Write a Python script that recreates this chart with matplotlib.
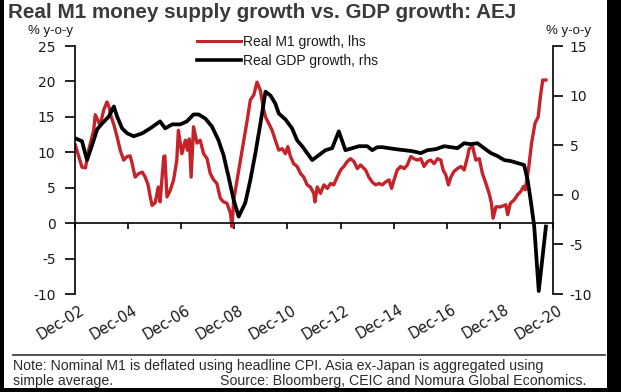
import matplotlib
matplotlib.use("Agg")
import matplotlib.pyplot as plt
from matplotlib.lines import Line2D
from matplotlib.patches import Rectangle
from matplotlib.transforms import ScaledTranslation

plt.rcParams['font.family'] = ['Liberation Sans', 'DejaVu Sans']
plt.rcParams['axes.unicode_minus'] = False

# ---------------- data (decimal years, % y-o-y) ----------------
m1_dates = [2002.93, 2003.18, 2003.31, 2003.43, 2003.62, 2003.68, 2003.78, 2003.86, 2004.00, 2004.12,
            2004.20, 2004.28, 2004.38, 2004.50, 2004.62, 2004.75, 2004.88, 2004.99, 2005.07, 2005.18,
            2005.32, 2005.45, 2005.56, 2005.67, 2005.75, 2005.82, 2005.94, 2006.05, 2006.12, 2006.26,
            2006.30, 2006.38, 2006.50, 2006.63, 2006.75, 2006.81, 2006.94, 2007.07, 2007.15, 2007.22,
            2007.29, 2007.38, 2007.51, 2007.63, 2007.76, 2007.89, 2008.01, 2008.14, 2008.26, 2008.39,
            2008.51, 2008.64, 2008.77, 2008.83, 2008.89, 2009.02, 2009.21, 2009.40, 2009.52, 2009.65,
            2009.77, 2009.90, 2010.02, 2010.09, 2010.21, 2010.34, 2010.46, 2010.59, 2010.72, 2010.84,
            2010.93, 2011.03, 2011.15, 2011.28, 2011.41, 2011.53, 2011.66, 2011.78, 2011.91, 2011.95,
            2012.04, 2012.16, 2012.29, 2012.42, 2012.54, 2012.66, 2012.79, 2012.92, 2013.04, 2013.17,
            2013.29, 2013.42, 2013.55, 2013.67, 2013.86, 2013.98, 2014.11, 2014.24, 2014.36, 2014.49,
            2014.61, 2014.74, 2014.84, 2014.93, 2015.05, 2015.18, 2015.31, 2015.43, 2015.56, 2015.68,
            2015.81, 2015.94, 2016.06, 2016.19, 2016.31, 2016.44, 2016.57, 2016.69, 2016.78, 2016.88,
            2016.98, 2017.07, 2017.19, 2017.32, 2017.45, 2017.57, 2017.70, 2017.76, 2017.89, 2018.01,
            2018.14, 2018.26, 2018.39, 2018.51, 2018.60, 2018.66, 2018.77, 2018.95, 2019.14, 2019.21,
            2019.31, 2019.46, 2019.58, 2019.71, 2019.81, 2019.87, 2019.99, 2020.11, 2020.24, 2020.36,
            2020.44, 2020.53, 2020.65]
m1_growth = [11.0, 7.9, 7.8, 10.3, 13.1, 15.3, 14.5, 13.8, 16.0, 17.1,
             16.4, 15.0, 13.9, 12.2, 10.3, 8.9, 9.4, 9.5, 8.4, 6.5,
             7.0, 7.2, 6.5, 5.4, 3.7, 2.5, 2.9, 5.1, 3.0, 9.4,
             9.5, 3.7, 4.6, 6.1, 8.9, 13.1, 9.8, 11.7, 10.3, 11.9,
             6.5, 13.6, 11.3, 11.7, 9.8, 9.1, 7.0, 6.1, 5.6, 3.5,
             3.0, 2.8, 1.4, -0.5, 3.2, 6.1, 10.3, 14.5, 17.4, 18.1,
             19.9, 18.7, 16.0, 15.0, 14.1, 13.1, 11.7, 10.3, 10.5, 9.8,
             10.8, 9.4, 8.4, 8.0, 7.0, 6.5, 5.4, 5.1, 4.2, 3.0,
             5.1, 4.2, 5.4, 4.9, 5.6, 5.4, 6.5, 7.5, 8.0, 8.7,
             9.1, 8.7, 7.7, 8.2, 7.5, 6.5, 5.8, 5.4, 5.6, 5.4,
             5.8, 6.1, 4.9, 6.1, 7.5, 8.0, 7.7, 8.2, 9.4, 9.1,
             8.9, 9.1, 8.0, 8.7, 8.9, 8.4, 9.1, 8.9, 7.5, 6.8,
             5.4, 6.5, 7.3, 7.7, 8.0, 7.5, 9.4, 10.5, 10.8, 8.9,
             9.1, 7.0, 5.6, 4.2, 2.8, 0.7, 2.3, 2.3, 2.6, 1.2,
             2.8, 3.3, 4.0, 4.5, 5.2, 4.7, 7.5, 11.3, 14.1, 15.0,
             17.8, 20.2, 20.2]

gdp_dates = [2002.92, 2003.18, 2003.37, 2003.56, 2003.75, 2003.94, 2004.19, 2004.38, 2004.50, 2004.69,
             2004.88, 2005.13, 2005.45, 2005.75, 2006.12, 2006.31, 2006.58, 2006.88, 2007.13, 2007.38,
             2007.57, 2007.82, 2008.07, 2008.32, 2008.51, 2008.70, 2008.89, 2009.08, 2009.33, 2009.52,
             2009.71, 2009.90, 2010.09, 2010.28, 2010.46, 2010.59, 2010.84, 2011.09, 2011.28, 2011.47,
             2011.66, 2011.85, 2012.10, 2012.35, 2012.60, 2012.85, 2013.10, 2013.36, 2013.61, 2013.92,
             2014.11, 2014.30, 2014.49, 2014.74, 2014.99, 2015.31, 2015.62, 2015.94, 2016.19, 2016.50,
             2016.82, 2017.07, 2017.32, 2017.57, 2017.82, 2018.07, 2018.32, 2018.58, 2018.83, 2019.08,
             2019.33, 2019.58, 2019.83, 2019.96, 2020.09, 2020.21, 2020.38, 2020.65]
gdp_growth = [5.7, 5.4, 3.5, 5.0, 6.6, 7.2, 7.9, 8.9, 7.9, 6.7,
              6.2, 5.9, 6.2, 6.7, 7.4, 6.7, 7.1, 7.1, 7.4, 8.1,
              8.1, 7.7, 6.9, 5.5, 4.0, 1.8, -0.5, -2.2, -0.8, 1.5,
              4.2, 7.2, 10.4, 10.0, 9.2, 8.2, 7.6, 6.7, 5.5, 4.9,
              4.2, 3.5, 4.0, 4.5, 4.7, 6.4, 4.5, 4.7, 4.9, 4.9,
              4.5, 4.8, 4.8, 4.7, 4.6, 4.5, 4.4, 4.2, 4.5, 4.6,
              4.9, 4.8, 4.7, 5.2, 5.1, 5.2, 4.7, 4.2, 3.9, 3.5,
              3.4, 3.2, 3.0, 1.5, -0.8, -3.2, -9.7, -3.2]

x_labels = ["Dec-02", "Dec-04", "Dec-06", "Dec-08", "Dec-10",
            "Dec-12", "Dec-14", "Dec-16", "Dec-18", "Dec-20"]
lhs_ticks = [-10, -5, 0, 5, 10, 15, 20, 25]
rhs_ticks = [-10, -5, 0, 5, 10, 15]

# ---------------- figure ----------------
W, H = 621, 392
fig = plt.figure(figsize=(W / 100, H / 100), dpi=100)
fig.patch.set_facecolor('black')
fig.patches.append(Rectangle((4 / W, 4 / H), (607 - 4) / W, (H - 4) / H,
                             transform=fig.transFigure, facecolor='white',
                             edgecolor='none', zorder=-5))

ax = fig.add_axes([75 / W, 1 - 294 / H, (553 - 75) / W, (294 - 46) / H])
ax.set_facecolor('none')
ax2 = ax.twinx()
ax2.set_facecolor('none')

red = '#C62229'
ax.plot(m1_dates, m1_growth, color=red, lw=2.4, solid_joinstyle='round', zorder=2)
ax2.plot(gdp_dates, gdp_growth, color='black', lw=2.7, solid_joinstyle='round', zorder=3)

tick_pos = [2000 + int(l[-2:]) + 11 / 12 for l in x_labels]
ax.set_xlim(tick_pos[0], tick_pos[-1])
ax.set_ylim(-10, 25)
ax2.set_ylim(-10, 15)
ax.set_yticks(lhs_ticks)
ax2.set_yticks(rhs_ticks)

txt = '#1a1a1a'
ax.spines['top'].set_visible(False)
ax2.spines['top'].set_visible(False)
ax.tick_params(axis='y', direction='out', length=7, width=1.2, colors='black',
               labelcolor=txt, pad=7)
ax2.tick_params(axis='y', direction='out', length=7, width=1.2, colors='black',
                labelcolor=txt, pad=5)
for lab in ax.get_yticklabels() + ax2.get_yticklabels():
    lab.set_fontfamily('DejaVu Sans')
    lab.set_fontsize(10)
ax.spines['right'].set_visible(False)
ax2.spines['left'].set_visible(False)
ax2.spines['bottom'].set_visible(False)
ax.spines['left'].set_linewidth(1.2)
ax2.spines['right'].set_linewidth(1.2)

# zero line with ticks
ax.spines['bottom'].set_position(('data', 0))
ax.spines['bottom'].set_linewidth(1.2)
ax.set_xticks(tick_pos)
ax.tick_params(axis='x', direction='out', length=4, width=1.2, labelbottom=False)

sec = ax.secondary_xaxis('bottom')
sec.spines['bottom'].set_visible(False)
sec.set_xticks(tick_pos)
sec.set_xticklabels(x_labels, rotation=31, ha='right', va='top',
                    rotation_mode='anchor', fontsize=10.5, color=txt,
                    fontfamily='DejaVu Sans')
sec.tick_params(axis='x', length=0, pad=6)
shift = ScaledTranslation(4 / 100, 0, fig.dpi_scale_trans)
for lab in sec.get_xticklabels():
    lab.set_transform(lab.get_transform() + shift)

# legend
handles = [Line2D([], [], color=red, lw=2.2), Line2D([], [], color='black', lw=2.6)]
fig.legend(handles, ["Real M1 growth, lhs", "Real GDP growth, rhs"],
           loc='upper left', bbox_to_anchor=(190 / W, 1 - 28 / H), frameon=False,
           fontsize=10, handlelength=3.2, handletextpad=0.1, labelspacing=0.35,
           borderpad=0, labelcolor=txt)

# titles / units
fig.text(8 / W, 1 - 13 / H, "Real M1 money supply growth vs. GDP growth: AEJ",
         fontsize=14.9, fontweight='bold', color='#3a3a3a', va='center', ha='left')
fig.text(28 / W, 1 - 31 / H, "% y-o-y", fontsize=9.5, color=txt, va='center', ha='left')
fig.text(591 / W, 1 - 31 / H, "% y-o-y", fontsize=9.5, color=txt, va='center', ha='right')

# footer
fig.add_artist(Line2D([13 / W, 605 / W], [1 - 355 / H, 1 - 355 / H],
                      transform=fig.transFigure, color='#333333', lw=1.2))
foot = dict(fontsize=10.2, color='#2a2a2a', va='center')
fig.text(13 / W, 1 - 366 / H,
         "Note: Nominal M1 is deflated using headline CPI. Asia ex-Japan is aggregated using",
         ha='left', **foot)
fig.text(13 / W, 1 - 380.5 / H, "simple average.", ha='left', **foot)
fig.text(586 / W, 1 - 380.5 / H, "Source: Bloomberg, CEIC and Nomura Global Economics.",
         ha='right', **foot)

fig.savefig('out.png', dpi=100, facecolor=fig.get_facecolor())
